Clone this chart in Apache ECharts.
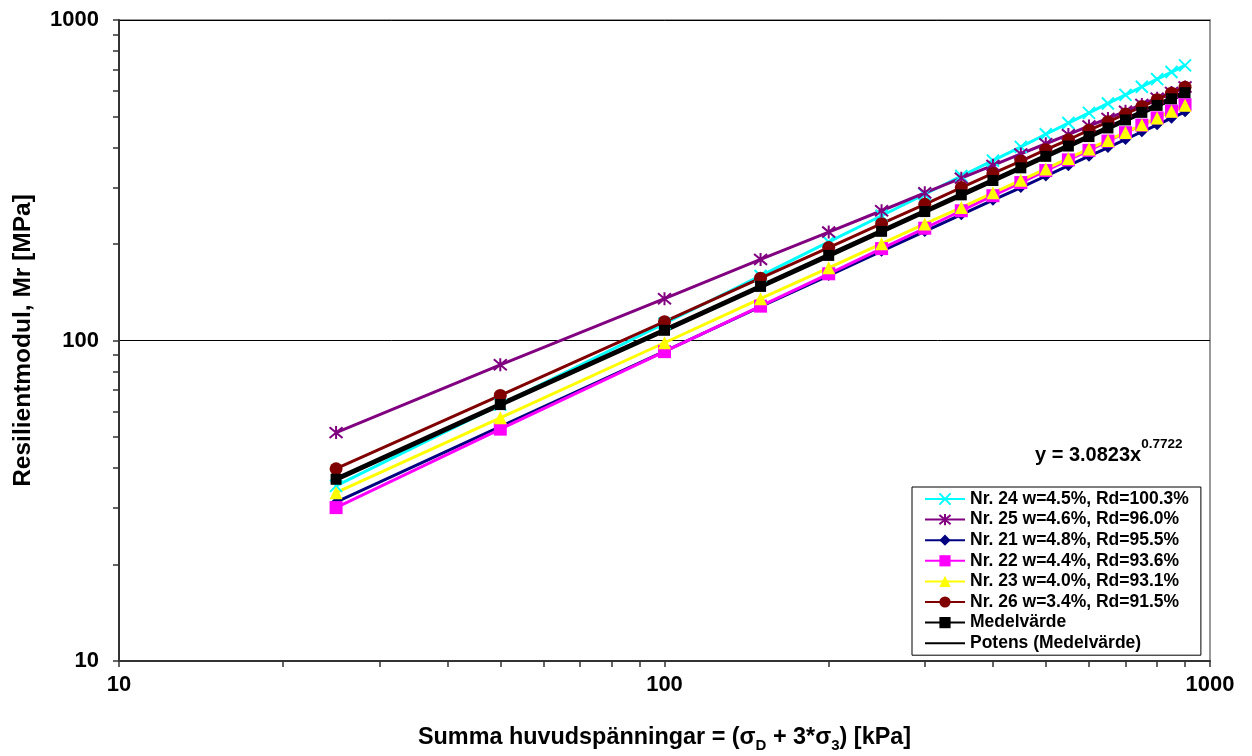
<!DOCTYPE html>
<html>
<head>
<meta charset="utf-8">
<script src="https://cdn.jsdelivr.net/npm/echarts@6/dist/echarts.min.js"></script>
<style>html,body{margin:0;padding:0;background:#fff;}#c{width:1252px;height:756px;}</style>
</head>
<body>
<div id="c"></div>
<script>
const xValues = [25,50,100,150,200,250,300,350,400,450,500,550,600,650,700,750,800,850,900];
const nr24 = [35.2,63.1,113,159,203,245,286,326,364,402,440,477,513,549,584,619,654,688,722];
const nr25 = [51.6,84,135,179,218,254,289,321,352,382,411,439,467,493,519,545,570,594,618];
const nr21 = [31.3,53.9,92.5,127.5,159.5,190,219,247,274,300,326,351,376,400,424,448,471,494,517];
const nr22 = [30.1,52.9,92.3,128,161.5,193.5,224,254,283,311,339,366,392,419,445,470,495,520,544];
const nr23 = [33.5,57.4,98.4,135,168.5,200.5,231,260,289,316,343,370,396,421,446,471,495,519,542];
const nr26 = [39.8,67.4,114.5,156.5,195,231.5,266,300,332,363,394,423,453,481,509,537,564,591,617];
const medel = [36.9,63.1,107.6,147.5,184.3,219.1,252.5,284.7,315.7,345.7,375.5,404.3,432.8,460.5,487.8,515,541.5,567.7,593.3];
const trendX = [25,900];
const trendY = [37.0,588.7];
const xTicks = [10,20,30,40,50,60,70,80,90,100,200,300,400,500,600,700,800,900,1000];
const yTicks = [10,20,30,40,50,60,70,80,90,100,200,300,400,500,600,700,800,900,1000];
const xLabels = [10,100,1000];
const yLabels = [10,100,1000];
const names = ['Nr. 24 w=4.5%, Rd=100.3%','Nr. 25 w=4.6%, Rd=96.0%','Nr. 21 w=4.8%, Rd=95.5%','Nr. 22 w=4.4%, Rd=93.6%','Nr. 23 w=4.0%, Rd=93.1%','Nr. 26 w=3.4%, Rd=91.5%','Medelvärde','Potens (Medelvärde)'];

const FONT = "'Liberation Sans', Arial, sans-serif";
const pairs = arr => xValues.map((x,i)=>[x, arr[i]]);
const crossPath = 'path://M0,0L10,10M10,0L0,10';
const starPath = 'path://M0,0L10,10M10,0L0,10M5,-1L5,11';

function mk(name, arr, color, symbol, size, lw, stroke) {
  return {
    name, type:'line', data: pairs(arr), symbol, symbolSize: size,
    lineStyle:{color, width: lw},
    itemStyle: stroke ? {color:'rgba(0,0,0,0)', borderColor: color, borderWidth: 2} : {color, borderColor: color, borderWidth: 0},
    emphasis:{disabled:true}, animation:false
  };
}

const chart = echarts.init(document.getElementById('c'));
chart.setOption({
  backgroundColor:'#fff',
  animation:false,
  grid:{left:119, top:20, right:42, bottom:95, show:true, borderColor:'#9a9a9a', borderWidth:2, backgroundColor:'#fff', containLabel:false, outerBoundsMode:'none'},
  xAxis:{
    type:'log', logBase:10, min:10, max:1000,
    axisLine:{show:true, lineStyle:{color:'#333', width:2}},
    axisTick:{show:true, length:6, inside:false, lineStyle:{color:'#333', width:1.5}, customValues: xTicks},
    axisLabel:{customValues: xLabels, formatter: v => String(Math.round(v)), fontFamily:FONT, fontWeight:'bold', fontSize:22, color:'#000', margin:13},
    splitLine:{show:false},
    name:'{b|Summa huvudspänningar = (σ}{s|D}{b| + 3*σ}{s|3}{b|) [kPa]}',
    nameLocation:'middle', nameGap:62,
    nameTextStyle:{rich:{
      b:{fontFamily:FONT, fontWeight:'bold', fontSize:23.4, color:'#000', lineHeight:30, verticalAlign:'middle'},
      s:{fontFamily:FONT, fontWeight:'bold', fontSize:15, color:'#000', lineHeight:15, verticalAlign:'bottom'}
    }}
  },
  yAxis:[{
    type:'log', logBase:10, min:10, max:1000,
    axisLine:{show:true, lineStyle:{color:'#333', width:2}},
    axisTick:{show:true, length:6, inside:false, lineStyle:{color:'#333', width:1.5}, customValues: yTicks},
    axisLabel:{customValues: yLabels, formatter: v => String(Math.round(v)), fontFamily:FONT, fontWeight:'bold', fontSize:22, color:'#000', margin:20},
    splitLine:{show:false},
    name:'Resilientmodul, Mr [MPa]', nameLocation:'middle', nameGap:83,
    nameTextStyle:{fontFamily:FONT, fontWeight:'bold', fontSize:24.5, color:'#000'}
  },{
    type:'log', logBase:10, min:10, max:1000, position:'left',
    axisLine:{show:false}, axisTick:{show:false}, axisLabel:{show:false},
    splitLine:{show:true, lineStyle:{color:'#000', width:1}}
  }],
  legend:{
    orient:'vertical', left:912, top:487,
    backgroundColor:'#fff', borderColor:'#000', borderWidth:1,
    padding:[3,12,3,12],
    itemWidth:40, itemHeight:14, itemGap:2.6,
    textStyle:{fontFamily:FONT, fontWeight:'bold', fontSize:17.5, color:'#000'},
    data: names,
    selectedMode:false
  },
  graphic:[{
    type:'text', left:1035, top:437, z:100,
    style:{
      text:'{m|y = 3.0823x}{p|0.7722}',
      rich:{
        m:{fontFamily:FONT, fontWeight:'bold', fontSize:20, fill:'#000', lineHeight:28, verticalAlign:'bottom'},
        p:{fontFamily:FONT, fontWeight:'bold', fontSize:13.5, fill:'#000', lineHeight:28, verticalAlign:'top'}
      }
    }
  }],
  series:[
    mk(names[0], nr24, '#00FFFF', crossPath, 12, 3, true),
    mk(names[1], nr25, '#800080', starPath, 13, 3, true),
    mk(names[2], nr21, '#000080', 'diamond', 11, 3, false),
    mk(names[3], nr22, '#FF00FF', 'rect', 13, 3, false),
    mk(names[4], nr23, '#FFFF00', 'triangle', 13, 3, false),
    mk(names[5], nr26, '#800000', 'circle', 13, 3, false),
    mk(names[6], medel, '#000000', 'rect', 11, 5, false),
    {name:names[7], type:'line', data: trendX.map((x,i)=>[x, trendY[i]]), symbol:'none',
     lineStyle:{color:'#000', width:2}, itemStyle:{color:'rgba(0,0,0,0)', borderWidth:0}, emphasis:{disabled:true}}
  ]
});
</script>
</body>
</html>
